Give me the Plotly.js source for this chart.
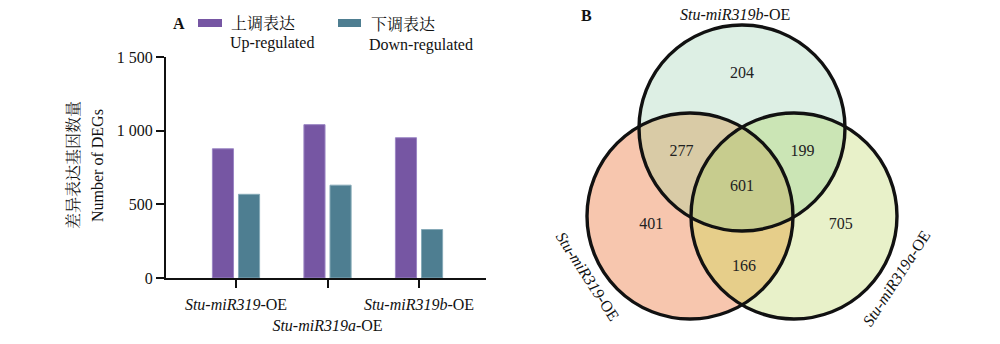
<!DOCTYPE html>
<html>
<head>
<meta charset="utf-8">
<script src="https://cdn.plot.ly/plotly-3.0.1.min.js"></script>
<style>html,body{margin:0;padding:0;background:#fff}#chart{width:1000px;height:344px}</style>
</head>
<body>
<div id="chart"></div>
<script>
// ---------- Panel A data ----------
var groups = ['Stu-miR319-OE', 'Stu-miR319a-OE', 'Stu-miR319b-OE'];
var groupLabels = ['<i>Stu-miR319</i>-OE', '<br><i>Stu-miR319a</i>-OE', '<i>Stu-miR319b</i>-OE'];
var upValues = [877, 1041, 952];
var downValues = [568, 630, 329];
var seriesNamesCN = ['上调表达', '下调表达'];
var seriesNamesEN = ['Up-regulated', 'Down-regulated'];
var yTickVals = [0, 500, 1000, 1500];
var yTickText = ['0', '500', '1 000', '1 500'];

// ---------- Panel B data ----------
var vennSetNames = ['Stu-miR319b-OE', 'Stu-miR319-OE', 'Stu-miR319a-OE']; // top, left, right
var vennSetLabels = ['<i>Stu-miR319b</i>-OE', '<i>Stu-miR319</i>-OE', '<i>Stu-miR319a</i>-OE'];
// membership [top, left, right]
var vennRegionMask = [[1,0,0],[1,1,0],[1,0,1],[1,1,1],[0,1,0],[0,0,1],[0,1,1]];
var vennCounts = [204, 277, 199, 601, 401, 705, 166];

// ---------- styles / geometry ----------
var FONT = '"Liberation Serif", "Times New Roman", "Noto Serif CJK SC", "Noto Sans CJK SC", serif';
var CJK = '"Noto Serif CJK SC", "Noto Sans CJK SC", serif';
var upColor = '#7656A3', downColor = '#4E7E91';
var regionColors = ['#DDEFE4', '#D9CBA6', '#CBE5B5', '#C7CC8E', '#F7C6AE', '#E8F1C9', '#E6CE8A'];
var labelNudge = [[0,-5],[0,0],[0,0],[0,0],[3,-15],[5,-15],[2,10]];
var circles = [{cx: 742, cy: 128}, {cx: 690, cy: 216}, {cx: 794, cy: 216}];
var R = 103;

function px(x){ return x / 1000; }
function py(y){ return 1 - y / 344; }

function inside(p, c){ var dx = p[0]-c.cx, dy = p[1]-c.cy; return dx*dx + dy*dy <= R*R + 1e-6; }

function intersectionPath(idx){
  var pts = [];
  idx.forEach(function(i){
    for (var k = 0; k < 720; k++){
      var a = k / 720 * 2 * Math.PI;
      var p = [circles[i].cx + R*Math.cos(a), circles[i].cy + R*Math.sin(a)];
      var ok = idx.every(function(j){ return j === i || inside(p, circles[j]); });
      if (ok) pts.push(p);
    }
  });
  var mx = 0, my = 0;
  pts.forEach(function(p){ mx += p[0]; my += p[1]; });
  mx /= pts.length; my /= pts.length;
  pts.sort(function(a, b){ return Math.atan2(a[1]-my, a[0]-mx) - Math.atan2(b[1]-my, b[0]-mx); });
  return 'M ' + pts.map(function(p){ return p[0].toFixed(2) + ',' + p[1].toFixed(2); }).join(' L ') + ' Z';
}

function regionCentroid(mask){
  var sx = 0, sy = 0, n = 0;
  for (var x = 560; x <= 920; x += 1){
    for (var y = 0; y <= 344; y += 1){
      var p = [x, y];
      var m = circles.map(function(c){ return inside(p, c) ? 1 : 0; });
      if (m[0] === mask[0] && m[1] === mask[1] && m[2] === mask[2]){ sx += x; sy += y; n++; }
    }
  }
  return [sx / n, sy / n];
}

var shapes = [];
circles.forEach(function(c, i){
  var col = regionColors[vennRegionMask.findIndex(function(m){ return m[i] === 1 && m.reduce(function(a,b){return a+b;},0) === 1; })];
  shapes.push({type: 'circle', xref: 'x2', yref: 'y2', layer: 'below', x0: c.cx - R, x1: c.cx + R, y0: c.cy - R, y1: c.cy + R,
    fillcolor: col, line: {width: 0}});
});
[2, 3].forEach(function(size){
  vennRegionMask.forEach(function(m, r){
    var idx = []; m.forEach(function(v, i){ if (v) idx.push(i); });
    if (idx.length === size) shapes.push({type: 'path', xref: 'x2', yref: 'y2', layer: 'below', path: intersectionPath(idx), fillcolor: regionColors[r], line: {width: 0}});
  });
});
circles.forEach(function(c){
  shapes.push({type: 'circle', xref: 'x2', yref: 'y2', layer: 'below', x0: c.cx - R, x1: c.cx + R, y0: c.cy - R, y1: c.cy + R,
    fillcolor: 'rgba(0,0,0,0)', line: {width: 3.4, color: '#111'}});
});
shapes.push({type: 'rect', xref: 'paper', yref: 'paper', x0: px(198), x1: px(222), y0: py(19), y1: py(27), fillcolor: upColor, line: {width: 0}});
shapes.push({type: 'rect', xref: 'paper', yref: 'paper', x0: px(338), x1: px(361), y0: py(19), y1: py(27), fillcolor: downColor, line: {width: 0}});

var centroids = vennRegionMask.map(regionCentroid);

var traces = [
  {type: 'bar', name: seriesNamesCN[0] + ' ' + seriesNamesEN[0], x: groups, y: upValues, marker: {color: upColor, line: {width: 1, color: '#9B86C4'}}, xaxis: 'x', yaxis: 'y', hoverinfo: 'x+y'},
  {type: 'bar', name: seriesNamesCN[1] + ' ' + seriesNamesEN[1], x: groups, y: downValues, marker: {color: downColor, line: {width: 1, color: '#86AAB8'}}, xaxis: 'x', yaxis: 'y', hoverinfo: 'x+y'},
  {type: 'scatter', mode: 'text', x: centroids.map(function(c, i){ return c[0] + labelNudge[i][0]; }), y: centroids.map(function(c, i){ return c[1] + labelNudge[i][1]; }),
    text: vennCounts.map(String), textposition: 'middle center', textfont: {family: FONT, size: 16, color: '#222'},
    xaxis: 'x2', yaxis: 'y2', hoverinfo: 'text'}
];

function ann(o){
  return Object.assign({showarrow: false, xanchor: 'center', yanchor: 'middle', font: {family: FONT, size: 16, color: '#111'}}, o);
}

var annotations = [
  ann({xref: 'paper', yref: 'paper', x: px(179), y: py(23), text: '<b>A</b>'}),
  ann({xref: 'paper', yref: 'paper', x: px(586), y: py(16), text: '<b>B</b>'}),
  ann({xref: 'paper', yref: 'paper', x: px(229), y: py(22), xanchor: 'left', text: seriesNamesCN[0], font: {family: CJK, size: 16, color: '#111'}}),
  ann({xref: 'paper', yref: 'paper', x: px(228), y: py(43), xanchor: 'left', text: seriesNamesEN[0]}),
  ann({xref: 'paper', yref: 'paper', x: px(369), y: py(23), xanchor: 'left', text: seriesNamesCN[1], font: {family: CJK, size: 16, color: '#111'}}),
  ann({xref: 'paper', yref: 'paper', x: px(367), y: py(45), xanchor: 'left', text: seriesNamesEN[1]}),
  ann({xref: 'paper', yref: 'paper', x: px(72), y: py(165), text: '差异表达基因数量', textangle: -90, font: {family: CJK, size: 16, color: '#111'}}),
  ann({xref: 'paper', yref: 'paper', x: px(97), y: py(166), text: 'Number of DEGs', textangle: -90}),
  ann({xref: 'x2', yref: 'y2', x: 735, y: 14, text: vennSetLabels[0]}),
  ann({xref: 'x2', yref: 'y2', x: 588, y: 276, text: vennSetLabels[1], textangle: 57}),
  ann({xref: 'x2', yref: 'y2', x: 896, y: 278, text: vennSetLabels[2], textangle: -57})
];

var axisCommon = {showgrid: false, zeroline: false, showline: true, linecolor: '#111', linewidth: 2,
  ticks: 'outside', ticklen: 8, tickwidth: 2, tickcolor: '#111', tickfont: {family: FONT, size: 16, color: '#111'}, fixedrange: true};

var layout = {
  width: 1000, height: 344,
  margin: {l: 0, r: 0, t: 0, b: 0},
  paper_bgcolor: '#fff', plot_bgcolor: 'rgba(0,0,0,0)',
  font: {family: FONT, size: 16, color: '#111'},
  showlegend: false,
  barmode: 'group', bargap: 0.43, bargroupgap: 0.19,
  xaxis: Object.assign({}, axisCommon, {domain: [0.166, 0.486], type: 'category', range: [-0.765, 2.732],
    tickmode: 'array', tickvals: groups, ticktext: groupLabels, tickangle: 0, ticklabelstandoff: 3, anchor: 'y', automargin: false}),
  yaxis: Object.assign({}, axisCommon, {domain: [py(278), py(57)], range: [0, 1500],
    tickmode: 'array', tickvals: yTickVals, ticktext: yTickText, anchor: 'x', automargin: false}),
  xaxis2: {domain: [0.5, 1], range: [500, 1000], visible: false, fixedrange: true, anchor: 'y2'},
  yaxis2: {domain: [0, 1], range: [344, 0], visible: false, fixedrange: true, anchor: 'x2'},
  shapes: shapes,
  annotations: annotations
};

Plotly.newPlot('chart', traces, layout, {displayModeBar: false, responsive: false});
</script>
</body>
</html>
